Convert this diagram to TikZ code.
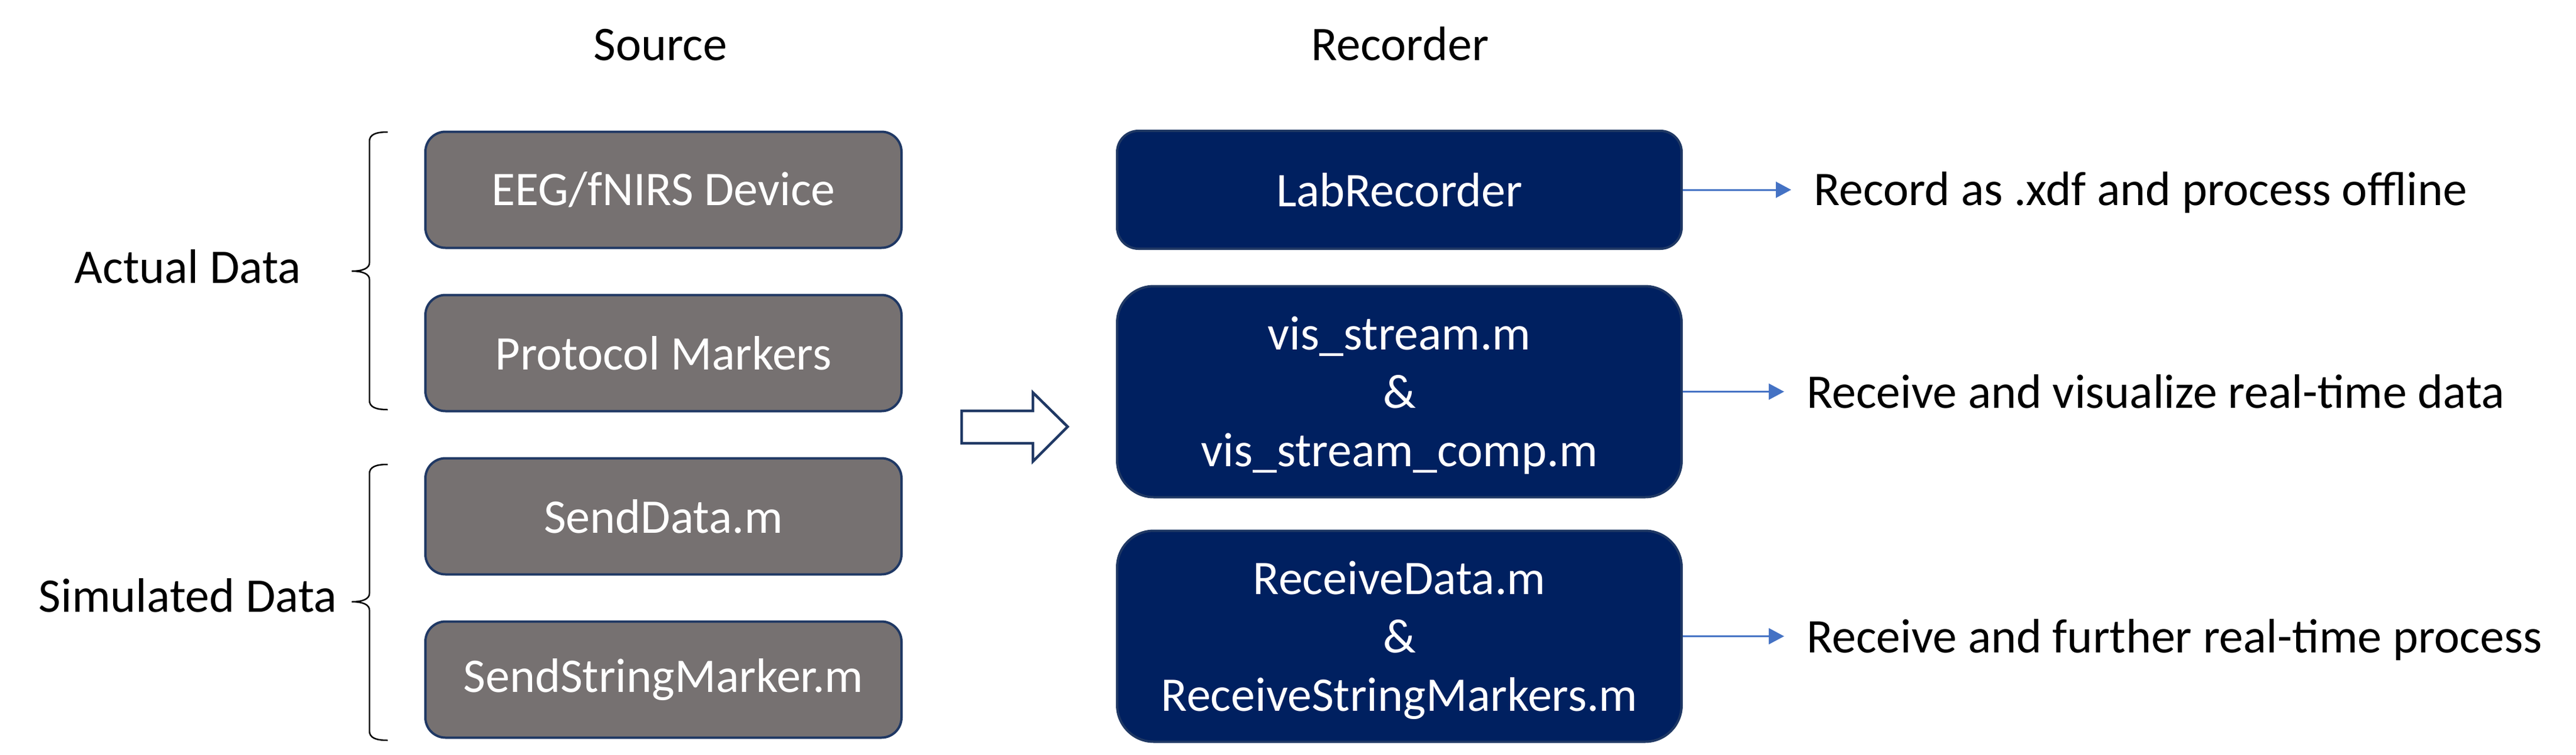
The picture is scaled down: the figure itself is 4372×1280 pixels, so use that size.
\documentclass[tikz,border=0pt]{standalone}
\usepackage{fontspec}
\setmainfont{Carlito}
\usetikzlibrary{arrows.meta}
\definecolor{greyfill}{HTML}{767171}
\definecolor{navyfill}{HTML}{002060}
\definecolor{navyline}{HTML}{1F3864}
\definecolor{arrowblue}{HTML}{4472C4}
\newcommand{\topstrut}{\rule{0pt}{75pt}}
\newcommand{\botstrut}{\rule[-20pt]{0pt}{20pt}}
\tikzset{
  txt/.style={font=\fontsize{82}{99}\selectfont, inner sep=0pt},
  srcbox/.style={txt, rectangle, rounded corners=34pt, fill=greyfill, draw=navyline, line width=4pt,
    minimum width=808pt, minimum height=197pt, text=white},
  recbox/.style={txt, rectangle, fill=navyfill, draw=navyline, line width=4pt,
    minimum width=958pt, text=white, align=center},
  brace/.style={draw=black, line width=2.5pt},
  outarrow/.style={draw=arrowblue, line width=3pt, -{Triangle[length=26pt,width=27pt]}},
  bigarrow/.style={draw=navyline, line width=4.5pt, fill=white, line join=miter}
}
\begin{document}
\begin{tikzpicture}[x=1pt,y=-1pt]
\useasboundingbox (0,0) rectangle (4372,1280);
% titles
\node[txt, anchor=base] (tsrc) at (1121,102) {Source};
\node[txt, anchor=base] (trec) at (2376,102) {Recorder};
% source boxes
\node[srcbox] (eeg) at (1126,322) {EEG/fNIRS Device};
\node[srcbox] (proto) at (1126,599) {Protocol Markers};
\node[srcbox] (send) at (1126,876) {SendData.m};
\node[srcbox] (sendstr) at (1126,1153) {SendStringMarker.m};
% group labels
\node[txt, anchor=base] (actual) at (319,480) {Actual Data};
\node[txt, anchor=base] (sim) at (319,1038) {Simulated Data};
% braces
\path[brace] (658,224) .. controls (638,224) and (627,228) .. (627,240) -- (627,446)
  .. controls (627,455) and (616,460) .. (597,460)
  .. controls (616,460) and (627,465) .. (627,474) -- (627,679)
  .. controls (627,691) and (638,695) .. (658,695);
\path[brace] (658,788) .. controls (638,788) and (627,792) .. (627,804) -- (627,1007)
  .. controls (627,1016) and (616,1021) .. (597,1021)
  .. controls (616,1021) and (627,1026) .. (627,1035) -- (627,1240)
  .. controls (627,1252) and (638,1256) .. (658,1256);
% hollow arrow
\path[bigarrow] (1632,697) -- (1753,697) -- (1753,666) -- (1812,724) -- (1753,783)
  -- (1753,752) -- (1632,752) -- cycle;
% recorder boxes
\node[recbox, rounded corners=36pt, minimum height=200pt] (lab) at (2375,322) {LabRecorder};
\node[recbox, rounded corners=62pt, minimum height=358pt] (vis) at (2375,664.5)
  {\topstrut vis\_stream.m\\\&\\vis\_stream\_comp.m\botstrut};
\node[recbox, rounded corners=62pt, minimum height=358pt] (recv) at (2375,1079.5)
  {\topstrut ReceiveData.m\\\&\\ReceiveStringMarkers.m\botstrut};
% right labels
\node[txt, anchor=base west] (l1) at (3078,348) {Record as .xdf and process offline};
\node[txt, anchor=base west] (l2) at (3066,692) {Receive and visualize real-time data};
\node[txt, anchor=base west] (l3) at (3066,1107) {Receive and further real-time process};
% connectors
\draw[outarrow, shorten >=38pt] (lab.east) -- (lab.east -| l1.west);
\draw[outarrow, shorten >=38pt] (vis.east) -- (vis.east -| l2.west);
\draw[outarrow, shorten >=38pt] (recv.east) -- (recv.east -| l3.west);
\end{tikzpicture}
\end{document}
